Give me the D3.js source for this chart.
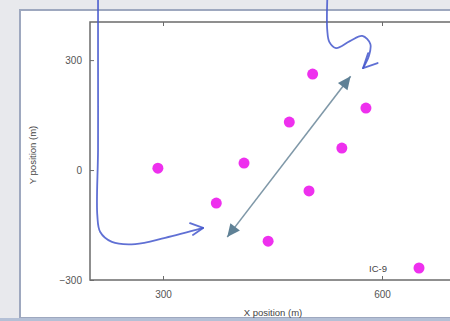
<!DOCTYPE html>
<html>
<head>
<meta charset="utf-8">
<script src="https://cdn.jsdelivr.net/npm/d3@7"></script>
<style>
  html, body { margin: 0; padding: 0; background: #e8e9ed; }
  svg { display: block; }
  text { font-family: "Liberation Sans", Arial, sans-serif; }
</style>
</head>
<body>
<svg id="chart" width="450" height="321"></svg>
<script>
// Sensor positions (m)
const sensorX = [293, 373, 411, 444, 473, 505, 500, 545, 578];
const sensorY = [5, -90, 19, -194, 131, 262, -57, 60, 169];
const seriesName = "IC-9";

// Axis ticks
const xTicks = [300, 600];
const yTicks = [-300, 0, 300];

// Double-headed direction arrow (data coords)
const arrowX = [388, 557];
const arrowY = [-183, 256];

// Hand-drawn pen strokes (data coords)
const penAX = [211, 211, 211, 210, 214, 230, 262, 303, 355];
const penAY = [464, 300, 55, -123, -169, -196, -202, -185, -158];
const penABarbX = [337, 355, 341];
const penABarbY = [-145, -158, -177];
const penBX = [525, 525, 528, 537, 556, 573, 584, 582, 574];
const penBY = [464, 382, 349, 333, 352, 366, 344, 311, 278];
const penBBarbX = [581, 574, 594];
const penBBarbY = [319, 278, 292];

const svg = d3.select("#chart");

// Slide panel
svg.append("rect").attr("x", 0).attr("y", 0).attr("width", 450).attr("height", 321).attr("fill", "#e8e9ed");
svg.append("rect").attr("x", 20).attr("y", 10).attr("width", 440).attr("height", 308)
  .attr("fill", "#ffffff").attr("stroke", "#9ea8bf").attr("stroke-width", 2);
svg.append("rect").attr("x", 0).attr("y", 318).attr("width", 450).attr("height", 3).attr("fill", "#b4c0d6");

const plot = { left: 90, top: 22, right: 455, bottom: 280 };

const x = d3.scaleLinear().domain([200, 700]).range([plot.left, plot.right]);
const y = d3.scaleLinear().domain([-300, 404]).range([plot.bottom, plot.top]);

const axisColor = "#6b6b6b";

// Plot frame
svg.append("rect")
  .attr("x", plot.left).attr("y", plot.top)
  .attr("width", plot.right - plot.left).attr("height", plot.bottom - plot.top)
  .attr("fill", "none").attr("stroke", axisColor).attr("stroke-width", 1.5);

// Axes (ticks point inward)
const styleAxis = g => {
  g.select(".domain").remove();
  g.selectAll(".tick line").attr("stroke", axisColor).attr("stroke-width", 1);
  g.selectAll(".tick text").attr("fill", "#555").attr("font-size", 10);
};

svg.append("g").attr("transform", `translate(0,${plot.bottom})`)
  .call(d3.axisBottom(x).tickValues(xTicks).tickSizeInner(-4).tickPadding(11).tickFormat(d3.format("d")))
  .call(styleAxis);
svg.append("g").attr("transform", `translate(0,${plot.top})`)
  .call(d3.axisTop(x).tickValues(xTicks).tickSizeInner(-4).tickFormat(""))
  .call(styleAxis);
svg.append("g").attr("transform", `translate(${plot.left},0)`)
  .call(d3.axisLeft(y).tickValues(yTicks).tickSizeInner(-4).tickPadding(8).tickFormat(d3.format("d")))
  .call(styleAxis);

// Axis titles
svg.append("text")
  .attr("x", 273).attr("y", 316)
  .attr("text-anchor", "middle").attr("font-size", 9.5).attr("fill", "#444")
  .text("X position (m)");
svg.append("text")
  .attr("transform", "translate(36,155) rotate(-90)")
  .attr("text-anchor", "middle").attr("font-size", 9.5).attr("fill", "#444")
  .text("Y position (m)");

// Direction arrow: shaft plus solid triangular heads
svg.append("line")
  .attr("x1", x(arrowX[0])).attr("y1", y(arrowY[0]))
  .attr("x2", x(arrowX[1])).attr("y2", y(arrowY[1]))
  .attr("stroke", "#7f98a8").attr("stroke-width", 1.6);
function head(x0, y0, x1, y1) {
  const ang = Math.atan2(y1 - y0, x1 - x0);
  const L = 13, W = 6;
  const bx = x1 - L * Math.cos(ang), by = y1 - L * Math.sin(ang);
  const px = -Math.sin(ang) * W, py = Math.cos(ang) * W;
  svg.append("path")
    .attr("d", `M${x1},${y1} L${bx + px},${by + py} L${bx - px},${by - py} Z`)
    .attr("fill", "#5f8196");
}
head(x(arrowX[1]), y(arrowY[1]), x(arrowX[0]), y(arrowY[0]));
head(x(arrowX[0]), y(arrowY[0]), x(arrowX[1]), y(arrowY[1]));

// Sensor points
svg.append("g").selectAll("circle")
  .data(d3.range(sensorX.length))
  .join("circle")
  .attr("cx", i => x(sensorX[i]))
  .attr("cy", i => y(sensorY[i]))
  .attr("r", 5.5)
  .attr("fill", "#ee30ee");

// Legend
svg.append("text")
  .attr("x", 387).attr("y", 272)
  .attr("text-anchor", "end").attr("font-size", 9.5).attr("fill", "#444")
  .text(seriesName);
svg.append("circle").attr("cx", 419).attr("cy", 268).attr("r", 5.5).attr("fill", "#ee30ee");

// Pen strokes
const pen = d3.line().x(d => x(d[0])).y(d => y(d[1])).curve(d3.curveCatmullRom.alpha(0.5));
const penLin = d3.line().x(d => x(d[0])).y(d => y(d[1]));
const zipXY = (a, b) => a.map((v, i) => [v, b[i]]);
const penStyle = s => s.attr("fill", "none").attr("stroke", "#4457cc").attr("stroke-opacity", 0.85)
  .attr("stroke-width", 1.8).attr("stroke-linecap", "round").attr("stroke-linejoin", "round");

svg.append("path").attr("d", pen(zipXY(penAX, penAY))).call(penStyle);
svg.append("path").attr("d", penLin(zipXY(penABarbX, penABarbY))).call(penStyle);
svg.append("path").attr("d", pen(zipXY(penBX, penBY))).call(penStyle);
svg.append("path").attr("d", penLin(zipXY(penBBarbX, penBBarbY))).call(penStyle);
</script>
</body>
</html>
